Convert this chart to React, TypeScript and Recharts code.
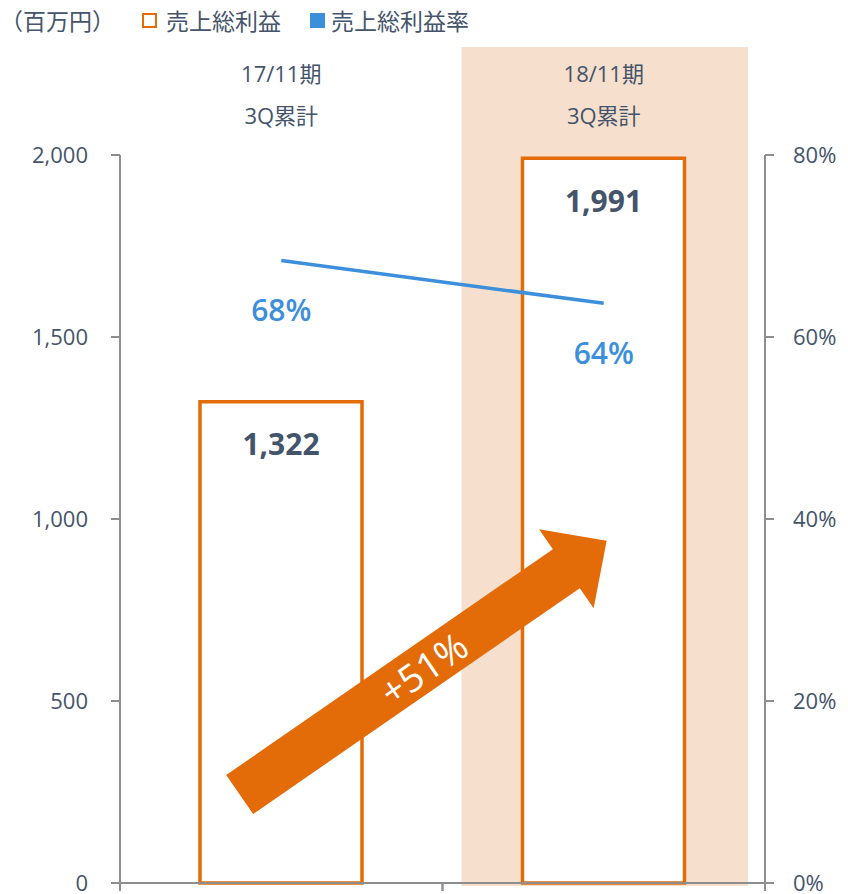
import { Bar, ComposedChart, LabelList, Line, ReferenceArea, ReferenceLine, XAxis, YAxis } from 'recharts'

// 売上総利益 / 売上総利益率
const categories = ['17/11期\n3Q累計', '18/11期\n3Q累計']
const grossProfit = [1322, 1991]
const grossMargin = [68.4, 63.7]
const leftTicks = [0, 500, 1000, 1500, 2000]
const rightTicks = [0, 20, 40, 60, 80]
const highlighted = categories[1]
const growthLabel = '+51%'
// 矢印: 区分の中心からのずれ (dx, 区分幅比) と高さ (y, 百万円)
const arrowFrom = { x: categories[0], y: 243, dx: -0.129 }
const arrowTo = { x: categories[1], y: 940, dx: 0.009 }

const data = categories.map((name, i) => ({ name, gross: grossProfit[i], margin: grossMargin[i] }))

const ORANGE = '#E36C09'
const BLUE = '#3B8FDB'
const TEXT = '#44546A'
const AXIS = '#8E8E8E'
const SHADE = '#F6DFCC'
const FONT = "'Open Sans', 'Noto Sans CJK JP', sans-serif"

const CategoryTick = ({ x, y, payload }: any) => {
    const [a, b] = String(payload.value).split('\n')
    return (
        <g>
            <text x={x} y={y - 82} textAnchor="middle" dominantBaseline="central" fill={TEXT} fontSize={22}>
                {a}
            </text>
            <text x={x} y={y - 40} textAnchor="middle" dominantBaseline="central" fill={TEXT} fontSize={22}>
                {b}
            </text>
        </g>
    )
}

// 区分の境界に目盛線
const BoundaryTick = ({ x, y, payload }: any) => {
    const half = payload?.offset || 161
    return (
        <g stroke={AXIS} strokeWidth={2}>
            <line x1={x - half} x2={x - half} y1={y} y2={y + 8} />
            <line x1={x + half} x2={x + half} y1={y} y2={y + 8} />
        </g>
    )
}

const Shade = ({ x, y, width, height }: any) => (
    <rect x={x + 19} y={y - 108} width={width - 36} height={height + 111} fill={SHADE} />
)

const Arrow = (props: any) => {
    const bw = props.x2 - props.x1
    const x1 = props.x1 + arrowFrom.dx * bw
    const x2 = props.x2 + arrowTo.dx * bw
    const { y1, y2 } = props
    const len = Math.hypot(x2 - x1, y2 - y1)
    const ux = (x2 - x1) / len
    const uy = (y2 - y1) / len
    const px = -uy
    const py = ux
    const shaft = 23.7
    const head = 48
    const headLen = 49
    const bx = x2 - ux * headLen
    const by = y2 - uy * headLen
    const pts = [
        [x1 + px * shaft, y1 + py * shaft],
        [bx + px * shaft, by + py * shaft],
        [bx + px * head, by + py * head],
        [x2, y2],
        [bx - px * head, by - py * head],
        [bx - px * shaft, by - py * shaft],
        [x1 - px * shaft, y1 - py * shaft]
    ]
    const angle = (Math.atan2(y2 - y1, x2 - x1) * 180) / Math.PI
    const mx = (x1 + x2) / 2
    const my = (y1 + y2) / 2
    return (
        <g>
            <polygon points={pts.map((p) => p.join(',')).join(' ')} fill={ORANGE} />
            <text
                x={mx}
                y={my}
                transform={`rotate(${angle} ${mx} ${my})`}
                textAnchor="middle"
                dominantBaseline="central"
                fill="#fff"
                fontSize={38}
            >
                {growthLabel}
            </text>
        </g>
    )
}

const BarValue = ({ x, y, width, value }: any) => (
    <text x={x + width / 2} y={y + 42} textAnchor="middle" dominantBaseline="central" fill={TEXT} fontSize={30} fontWeight={700}>
        {Number(value).toLocaleString()}
    </text>
)

const MarginValue = ({ x, y, value }: any) => (
    <text x={x} y={y + 49} textAnchor="middle" dominantBaseline="central" fill={BLUE} fontSize={30} fontWeight={600}>
        {Math.round(value)}%
    </text>
)

export default function App() {
    return (
        <div style={{ position: 'relative', width: 832, height: 886, fontFamily: FONT }}>
            <div
                style={{
                    position: 'absolute',
                    left: -8,
                    top: -5,
                    display: 'flex',
                    alignItems: 'center',
                    fontSize: 23,
                    color: TEXT,
                    whiteSpace: 'nowrap',
                    zIndex: 2
                }}
            >
                <span>（百万円）</span>
                <span style={{ width: 15, height: 15, border: `2px solid ${ORANGE}`, boxSizing: 'border-box', marginLeft: 27 }} />
                <span style={{ marginLeft: 9 }}>売上総利益</span>
                <span style={{ width: 15, height: 15, background: BLUE, marginLeft: 29 }} />
                <span style={{ marginLeft: 6 }}>売上総利益率</span>
            </div>
            <ComposedChart
                width={832}
                height={886}
                data={data}
                margin={{ top: 47, right: 15, bottom: 0, left: 52 }}
                style={{ fontFamily: FONT }}
            >
                <XAxis
                    xAxisId="c"
                    dataKey="name"
                    orientation="top"
                    height={100}
                    axisLine={false}
                    tickLine={false}
                    tickSize={0}
                    tickMargin={0}
                    interval={0}
                    tick={<CategoryTick />}
                />
                <XAxis
                    xAxisId="b"
                    dataKey="name"
                    orientation="bottom"
                    height={11}
                    interval={0}
                    tickLine={false}
                    tickSize={0}
                    tickMargin={0}
                    tick={<BoundaryTick />}
                    axisLine={{ stroke: AXIS, strokeWidth: 2 }}
                />
                <YAxis
                    yAxisId="left"
                    domain={[0, 2000]}
                    ticks={leftTicks}
                    interval={0}
                    width={60}
                    tickSize={9}
                    tickMargin={23}
                    tickFormatter={(v: number) => v.toLocaleString()}
                    tick={{ fill: TEXT, fontSize: 22 }}
                    axisLine={{ stroke: AXIS, strokeWidth: 2 }}
                    tickLine={{ stroke: AXIS, strokeWidth: 2 }}
                />
                <YAxis
                    yAxisId="right"
                    orientation="right"
                    domain={[0, 80]}
                    ticks={rightTicks}
                    interval={0}
                    width={60}
                    tickSize={9}
                    tickMargin={19}
                    tickFormatter={(v: number) => `${v}%`}
                    tick={{ fill: TEXT, fontSize: 22, textAnchor: 'start' }}
                    axisLine={{ stroke: AXIS, strokeWidth: 2 }}
                    tickLine={{ stroke: AXIS, strokeWidth: 2 }}
                />
                <ReferenceArea
                    xAxisId="c"
                    yAxisId="left"
                    x1={highlighted}
                    x2={highlighted}
                    y1={0}
                    y2={2000}
                    ifOverflow="visible"
                    shape={<Shade />}
                    zIndex={-200}
                />
                <Bar
                    xAxisId="c"
                    yAxisId="left"
                    dataKey="gross"
                    fill="#fff"
                    stroke={ORANGE}
                    strokeWidth={3.5}
                    barSize={162}
                    isAnimationActive={false}
                >
                    <LabelList dataKey="gross" content={<BarValue />} />
                </Bar>
                <ReferenceLine
                    xAxisId="c"
                    yAxisId="left"
                    segment={[
                        { x: arrowFrom.x, y: arrowFrom.y },
                        { x: arrowTo.x, y: arrowTo.y }
                    ]}
                    ifOverflow="visible"
                    shape={<Arrow />}
                    zIndex={1500}
                />
                <Line
                    xAxisId="c"
                    yAxisId="right"
                    dataKey="margin"
                    stroke={BLUE}
                    strokeWidth={3.5}
                    dot={false}
                    isAnimationActive={false}
                >
                    <LabelList dataKey="margin" content={<MarginValue />} />
                </Line>
            </ComposedChart>
        </div>
    )
}
